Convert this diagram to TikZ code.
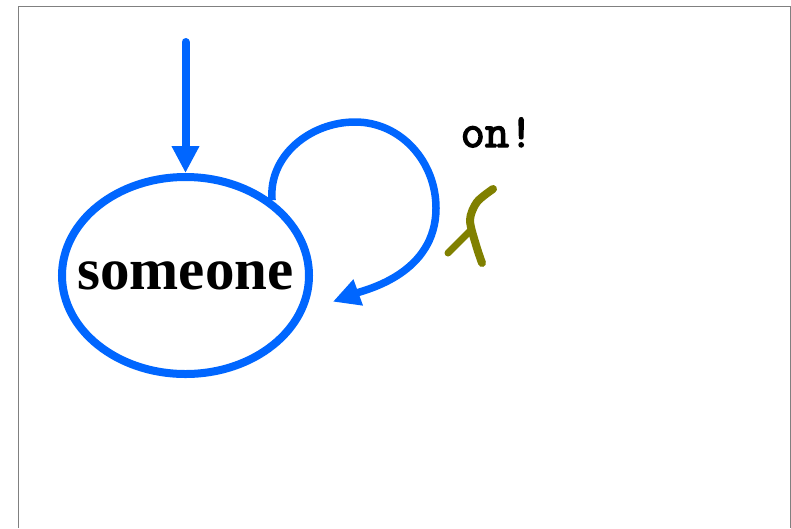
\documentclass[tikz,border=0pt]{standalone}
\usepackage{fontspec}
\setmainfont{Liberation Serif}
\newfontfamily\onfont{Latin Modern Mono}[FakeBold=3]
\usepackage{tikz}
\usetikzlibrary{arrows.meta,shapes.geometric}
\definecolor{stateblue}{RGB}{0,102,255}
\definecolor{lambdaolive}{RGB}{128,128,0}

\begin{document}
\begin{tikzpicture}[x=1pt,y=-1pt,>={Triangle[width=26pt,length=27pt]},
    blueline/.style={draw=stateblue,line width=8pt},
    lamstroke/.style={draw=lambdaolive,line width=8pt,line cap=round}]
  \useasboundingbox (0,0) rectangle (791,528);
  \draw[gray,line width=1pt] (18,528) -- (18,6) -- (790,6) -- (790,528);

  \node (st) [ellipse, blueline, minimum width=247pt, minimum height=197pt, inner xsep=-22pt, inner ysep=0pt, font=\bfseries\fontsize{59}{60}\selectfont] at (185.5,275.5) {someone};
  \coordinate (init) at (185.5,42);

  \draw[blueline,->,line cap=round] (init) -- (st.north);
  \draw[blueline,line width=7.5pt,->,shorten >=30pt] (st.41) to[out=95,in=180] (355,122) to[out=0,in=90] (436,208) to[out=-90,in=20] (st.-17);

  \node (lbl) [anchor=base, font=\onfont\fontsize{47}{47}\selectfont, inner sep=0pt] at (497,147) {on!};
  \draw[lamstroke] plot[smooth] coordinates {(493,189) (477,202) (470,220) (476,245) (482,263)};
  \draw[lamstroke,line width=7pt] (470,231) -- (448,253);
\end{tikzpicture}
\end{document}
